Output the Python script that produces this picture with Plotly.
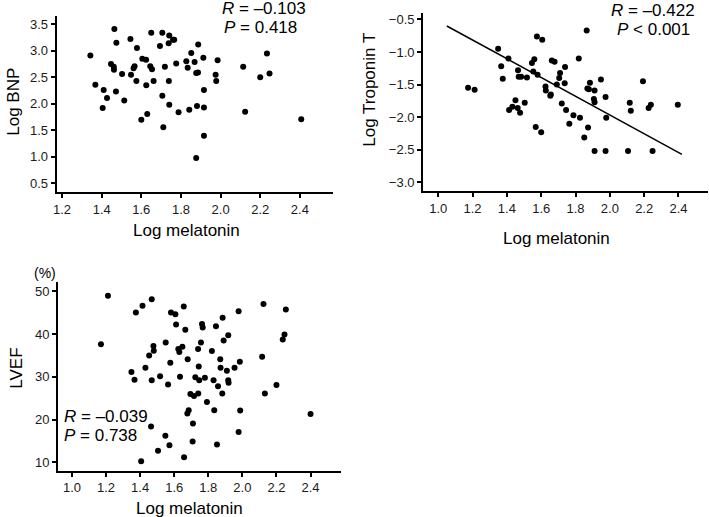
import plotly.graph_objects as go

# ---------------- data ----------------
bnp_mel = [1.343, 1.368, 1.410, 1.427, 1.405, 1.464, 1.474, 1.447, 1.461, 1.462, 1.472, 1.503, 1.514, 1.545,
           1.548, 1.561, 1.566, 1.578, 1.575, 1.605, 1.624, 1.625, 1.645, 1.654, 1.662, 1.650, 1.694, 1.706,
           1.741, 1.738, 1.760, 1.766, 1.719, 1.706, 1.739, 1.741, 1.776, 1.788, 1.827, 1.834, 1.852, 1.869,
           1.877, 1.886, 1.887, 1.913, 1.916, 1.842, 1.881, 1.916, 1.916, 1.877, 1.975, 1.978, 1.985, 2.114,
           2.124, 2.200, 2.234, 2.247, 2.407, 1.600, 1.630, 1.711]
bnp = [2.91, 2.36, 2.26, 2.11, 1.92, 3.41, 3.15, 2.75, 2.70, 2.64, 2.23, 2.56, 2.06, 3.22,
       2.55, 2.67, 2.71, 3.05, 2.43, 2.85, 2.83, 2.35, 2.71, 2.65, 2.43, 3.34, 3.09, 3.34,
       3.29, 3.14, 3.21, 3.21, 2.70, 2.15, 2.43, 1.98, 2.76, 1.84, 2.80, 2.68, 2.96, 2.79,
       2.58, 2.59, 3.12, 2.87, 2.26, 1.89, 1.96, 1.93, 1.40, 0.98, 2.55, 2.43, 2.82, 2.70,
       1.85, 2.50, 2.95, 2.57, 1.71, 1.70, 1.81, 1.56]

trop_mel = [1.174, 1.212, 1.349, 1.367, 1.376, 1.409, 1.413, 1.432, 1.450, 1.465, 1.469, 1.463, 1.477,
            1.483, 1.504, 1.517, 1.546, 1.560, 1.554, 1.575, 1.579, 1.568, 1.606, 1.600, 1.625, 1.627,
            1.653, 1.656, 1.662, 1.678, 1.691, 1.705, 1.710, 1.720, 1.739, 1.737, 1.745, 1.788, 1.764,
            1.819, 1.826, 1.851, 1.865, 1.869, 1.878, 1.873, 1.884, 1.911, 1.911, 1.907, 1.911, 1.948,
            1.975, 1.975, 1.979, 2.106, 2.116, 2.122, 2.193, 2.226, 2.239, 2.249, 2.396]
trop = [-1.55, -1.58, -0.95, -1.22, -1.41, -1.10, -1.89, -1.84, -1.74, -1.28, -1.38, -1.86, -1.93,
        -1.38, -1.78, -1.39, -1.17, -1.11, -1.30, -0.76, -1.35, -2.15, -0.81, -2.23, -1.53, -1.59,
        -1.67, -1.65, -1.13, -1.15, -1.50, -1.40, -1.32, -1.79, -1.23, -1.48, -1.89, -1.97, -2.10,
        -1.10, -2.01, -2.31, -0.67, -1.56, -1.57, -2.16, -1.47, -2.52, -1.59, -1.72, -1.77, -1.42,
        -1.69, -2.52, -2.01, -2.52, -1.78, -1.90, -1.45, -1.86, -1.81, -2.52, -1.81]
trend_mel = [1.05, 2.42]
trend_trop = [-0.60, -2.57]

lvef_mel = [1.170, 1.211, 1.349, 1.367, 1.375, 1.414, 1.431, 1.453, 1.468, 1.478, 1.480, 1.468, 1.464,
            1.517, 1.505, 1.548, 1.564, 1.572, 1.550, 1.577, 1.581, 1.607, 1.611, 1.624, 1.630, 1.648,
            1.634, 1.656, 1.665, 1.679, 1.658, 1.677, 1.685, 1.695, 1.716, 1.710, 1.708, 1.740, 1.744,
            1.724, 1.747, 1.741, 1.757, 1.763, 1.767, 1.780, 1.792, 1.821, 1.831, 1.835, 1.845, 1.851,
            1.857, 1.870, 1.872, 1.890, 1.884, 1.882, 1.909, 1.917, 1.919, 1.917, 1.954, 1.978, 1.985,
            1.987, 1.978, 2.116, 2.124, 2.132, 2.200, 2.237, 2.247, 2.255, 1.406, 2.400]
lvef = [37.6, 48.9, 31.1, 29.3, 45.0, 46.6, 32.1, 35.0, 48.1, 37.2, 36.1, 29.2, 18.4,
        30.1, 12.7, 16.2, 28.2, 14.0, 38.0, 33.3, 45.0, 44.6, 42.2, 36.5, 35.8, 37.0,
        30.0, 46.4, 41.0, 34.1, 11.2, 21.4, 22.2, 26.0, 25.5, 19.1, 14.9, 36.5, 32.4,
        29.9, 29.2, 26.1, 38.0, 42.3, 41.5, 29.8, 24.1, 36.0, 29.2, 22.2, 41.8, 14.2,
        27.8, 34.1, 32.1, 38.5, 43.8, 26.1, 31.4, 29.2, 28.6, 39.7, 32.1, 45.3, 33.5,
        22.1, 17.1, 34.7, 47.0, 26.1, 28.1, 38.7, 39.9, 45.7, 10.3, 21.3]

x_ticks_bnp = [1.2, 1.4, 1.6, 1.8, 2.0, 2.2, 2.4]
y_ticks_bnp = [0.5, 1.0, 1.5, 2.0, 2.5, 3.0, 3.5]
x_ticks = [1.0, 1.2, 1.4, 1.6, 1.8, 2.0, 2.2, 2.4]
y_ticks_trop = [-3.0, -2.5, -2.0, -1.5, -1.0, -0.5]
y_ticks_lvef = [10, 20, 30, 40, 50]

# ---------------- figure ----------------
W, H = 709, 517
FONT = "Liberation Sans, Arial, sans-serif"


def px_x(p):
    return p / W


def px_y(p):
    return 1 - p / H


fig = go.Figure()
mk = dict(color="black", size=6)
fig.add_trace(go.Scatter(x=bnp_mel, y=bnp, mode="markers", marker=mk, xaxis="x", yaxis="y"))
fig.add_trace(go.Scatter(x=trop_mel, y=trop, mode="markers", marker=mk, xaxis="x2", yaxis="y2"))
fig.add_trace(go.Scatter(x=trend_mel, y=trend_trop, mode="lines", line=dict(color="black", width=1.5),
                         xaxis="x2", yaxis="y2"))
fig.add_trace(go.Scatter(x=lvef_mel, y=lvef, mode="markers", marker=mk, xaxis="x3", yaxis="y3"))

common = dict(showline=True, linecolor="black", linewidth=2, ticks="outside", ticklen=4,
              tickwidth=1.5, tickcolor="black", showgrid=False, zeroline=False,
              tickfont=dict(family=FONT, size=13, color="#1a1a1a"), tickmode="array")

fig.update_layout(
    width=W, height=H, margin=dict(l=0, r=0, t=0, b=0),
    paper_bgcolor="white", plot_bgcolor="white", showlegend=False,
    font=dict(family=FONT, color="black"),
    xaxis=dict(domain=[px_x(53), px_x(331)], range=[1.173, 2.568], tickvals=x_ticks_bnp,
               tickformat=".1f", anchor="y", **common),
    yaxis=dict(domain=[px_y(191.7), px_y(15)], range=[0.331, 3.656], tickvals=y_ticks_bnp,
               tickformat=".1f", anchor="x", **common),
    xaxis2=dict(domain=[px_x(421.5), px_x(708)], range=[0.912, 2.572], tickvals=x_ticks,
                tickformat=".1f", anchor="y2", **common),
    yaxis2=dict(domain=[px_y(190.7), px_y(11.7)], range=[-3.138, -0.396], tickvals=y_ticks_trop,
                tickformat=".1f", anchor="x2", **common),
    xaxis3=dict(domain=[px_x(54.3), px_x(339.3)], range=[0.918, 2.581], tickvals=x_ticks,
                tickformat=".1f", anchor="y3", **common),
    yaxis3=dict(domain=[px_y(470.5), px_y(281.7)], range=[8.09, 52.1], tickvals=y_ticks_lvef,
                anchor="x3", **common),
)


def note(text, x, y, size=17, xanchor="center", angle=0):
    fig.add_annotation(text=text, x=px_x(x), y=px_y(y), xref="paper", yref="paper",
                       xanchor=xanchor, yanchor="middle", showarrow=False, textangle=angle,
                       font=dict(family=FONT, size=size, color="black"))


# axis titles
note("Log melatonin", 183.5, 230)
note("Log melatonin", 555.8, 238.3)
note("Log melatonin", 186.7, 508.3)
note("Log BNP", 10, 101, angle=-90)
note("Log Troponin T", 368, 89, angle=-90)
note("LVEF", 13, 367.5, angle=-90)
note("(%)", 41, 272.5, size=14)

# statistics
note("<i>R</i> = \u20130.103", 261, 7.5)
note("<i>P</i> = 0.418", 258, 26.7)
note("<i>R</i> = \u20130.422", 652.7, 10)
note("<i>P</i> < 0.001", 653, 28.3)
note("<i>R</i> = \u20130.039", 58, 416, xanchor="left")
note("<i>P</i> = 0.738", 58, 435, xanchor="left")

fig.write_html("out.html", config={"displayModeBar": False},
               post_script="document.body.style.margin='0';document.body.style.padding='0';")
